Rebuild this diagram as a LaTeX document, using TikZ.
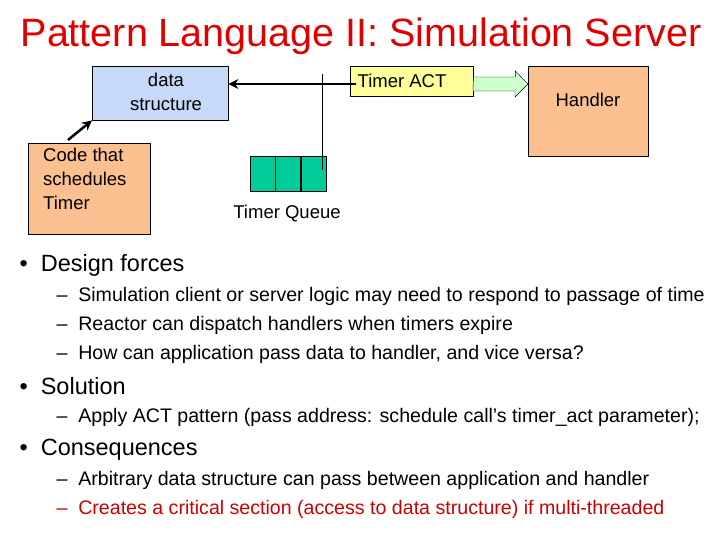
\documentclass[tikz,border=0pt]{standalone}
\usepackage{fontspec}
\setmainfont{Liberation Sans}
\usetikzlibrary{shapes.arrows,arrows.meta}
\definecolor{titlered}{HTML}{E00000}
\definecolor{dsblue}{HTML}{C6D9F8}
\definecolor{actyel}{HTML}{FFFF99}
\definecolor{hand}{HTML}{FAC090}
\definecolor{qgreen}{HTML}{00CC99}
\definecolor{lgreen}{HTML}{CCFFCC}
\definecolor{redtxt}{HTML}{CC0000}
\begin{document}
\begin{tikzpicture}[x=1pt,y=-1pt,
  box/.style={draw,inner sep=0pt,align=center,font=\fontsize{18.5}{24}\selectfont},
  cell/.style={draw,fill=qgreen,minimum width=25pt,minimum height=35pt,inner sep=0pt},
  thickarrow/.style={line width=2.5pt,-{Stealth[length=10pt,width=10pt]}},
  lvl1/.style={anchor=west,font=\fontsize{23.5}{26}\selectfont},
  lvl2/.style={anchor=west,font=\fontsize{19.6}{22}\selectfont}]
\useasboundingbox (0,0) rectangle (720,540);
\node (title) at (361,36) {\fontsize{39.5}{44}\selectfont\color{titlered}Pattern Language II: Simulation Server};
\node[box,fill=dsblue,minimum width=136pt,minimum height=54pt,anchor=north west] (ds) at (92,66) {};
\node[font=\fontsize{18.5}{24}\selectfont,align=center] (dst) at (166,92) {data\\structure};
\node[box,fill=actyel,minimum width=123pt,minimum height=30pt,anchor=north west] (act) at (350,66) {};
\node[font=\fontsize{18.5}{24}\selectfont] (actt) at (402,81) {Timer ACT};
\node[box,fill=hand,minimum width=120pt,minimum height=90pt,anchor=north west] (hd) at (528,66) {};
\node[font=\fontsize{18.5}{24}\selectfont] (hdt) at (588,100) {Handler};
\node[box,fill=hand,minimum width=122pt,minimum height=91pt,anchor=north west] (code) at (28,143) {};
\node[font=\fontsize{18.5}{24}\selectfont,align=left,anchor=north west,inner sep=0pt] (codet) at (43,148) {Code that\\schedules\\Timer};
\node[cell,anchor=north west] (c1) at (250,156) {};
\node[cell,anchor=west] (c2) at (c1.east) {};
\node[cell,anchor=west] (c3) at (c2.east) {};
\node[font=\fontsize{18.5}{24}\selectfont] (ql) at (287,214) {Timer Queue};
\coordinate (aw) at (356,84);
\draw[thickarrow] (aw) -- (ds.east |- aw);
\coordinate (vt) at (322,74);
\coordinate (vb) at (322,170);
\draw[thin] (vt) -- (vb);
\draw[thickarrow] (code.north west) ++(40,-3) coordinate (cs) -- (ds.south west);
\coordinate (gt) at (act.east |- 0,84);
\coordinate (gh) at (hd.west |- 0,84);
\draw[fill=lgreen,thin] (gt) ++(0,-7) -- ++(42,0) -- ++(0,-6) -- (gh) -- ++(-13,13) -- ++(0,-6) -- ++(-42,0) -- cycle;
\node[lvl1] (b1) at (16,265) {• \ Design forces};
\node[lvl2] (b11) at (53,296) {– \ Simulation client or server logic may need to respond to passage of time};
\node[lvl2] (b12) at (53,325) {– \ Reactor can dispatch handlers when timers expire};
\node[lvl2] (b13) at (53,354) {– \ How can application pass data to handler, and vice versa?};
\node[lvl1] (b2) at (16,386) {• \ Solution};
\node[lvl2] (b21) at (53,417) {– \ Apply ACT pattern (pass address: schedule call’s timer\_act parameter);};
\node[lvl1] (b3) at (16,450) {• \ Consequences};
\node[lvl2] (b31) at (53,480) {– \ Arbitrary data structure can pass between application and handler};
\node[lvl2,text=redtxt] (b32) at (53,509) {– \ Creates a critical section (access to data structure) if multi-threaded};
\end{tikzpicture}
\end{document}
